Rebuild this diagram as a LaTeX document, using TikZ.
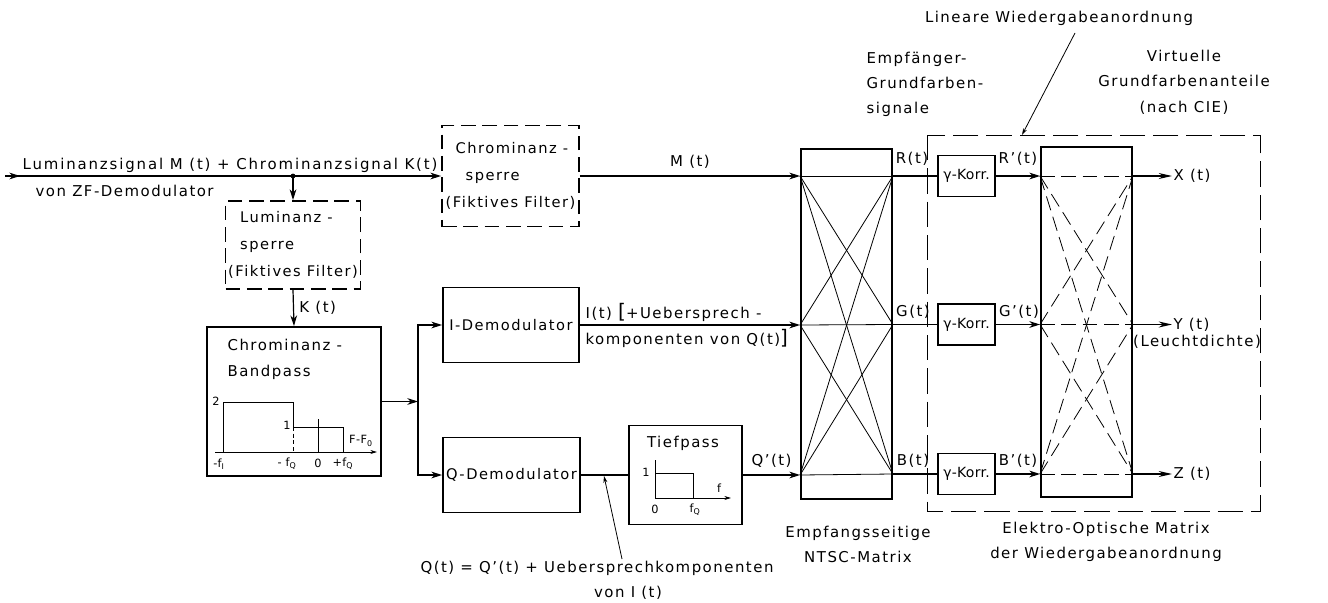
\documentclass[tikz,border=0pt]{standalone}
\usepackage{fontspec}
\setmainfont[LetterSpace=10]{DejaVu Sans}
\usepackage{tikz}
\usetikzlibrary{arrows.meta, positioning}

\tikzset{
  block/.style={draw, line width=1.4pt, inner sep=0pt},
  fblock/.style={block, dash pattern=on 11pt off 5pt},
  sig/.style={line width=0.9pt, -{Stealth[length=8pt, width=5pt, inset=2.5pt]}},
  wire/.style={line width=0.9pt},
  mline/.style={line width=0.6pt},
  dmline/.style={mline, dash pattern=on 11pt off 5pt},
  ptr/.style={line width=0.6pt, -{Stealth[length=5pt, width=3pt, inset=1.5pt]}},
  outsig/.style={line width=0.9pt, -{Stealth[length=10pt, width=4.5pt]}},
  txt/.style={inner sep=1pt, align=left, font=\fontsize{11.2}{19}\selectfont},
  ctxt/.style={txt, align=center},
  small/.style={inner sep=0.5pt, font=\fontsize{8.5}{10}\selectfont\addfontfeatures{LetterSpace=3}},
}

\begin{document}
\begin{tikzpicture}[x=0.75pt, y=-0.75pt]
  \useasboundingbox (0,0) rectangle (1328,603);

  % blocks
  \node[fblock, minimum width=101.25pt, minimum height=66pt, txt,
    font=\fontsize{11}{20.5}\selectfont] (lsp) at (293,245)
    {\hspace*{9pt}Luminanz -\\\hspace*{9pt}sperre\\(Fiktives Filter)};
  \node[block, minimum width=130.5pt, minimum height=111.75pt] (bp) at (294,401.5) {};
  \node[fblock, minimum width=102.75pt, minimum height=75.75pt, txt,
    font=\fontsize{11}{20.5}\selectfont] (chs) at (510.5,176)
    {\hspace*{7.5pt}Chrominanz -\\\hspace*{15pt}sperre\\(Fiktives Filter)};
  \node[block, minimum width=102pt, minimum height=56.25pt, txt,
    font=\fontsize{11}{13}\selectfont] (idem) at (511,325) {I-Demodulator};
  \node[block, minimum width=102.75pt, minimum height=56.25pt, txt,
    font=\fontsize{11}{13}\selectfont] (qdem) at (511.5,475) {Q-Demodulator};
  \node[block, minimum width=84.75pt, minimum height=74.25pt] (tp) at (685.5,475) {};
  \node[block, minimum width=68.25pt, minimum height=262.5pt] (ntsc) at (846.5,324) {};
  \node[block, minimum width=68.25pt, minimum height=262.5pt] (eom) at (1086.5,322) {};
  \foreach \n/\y in {R/176, G/324.5, B/474}
    \node[block, line width=1.1pt, minimum width=42.75pt, minimum height=30.75pt,
      font=\fontsize{10.5}{12}\selectfont\addfontfeatures{LetterSpace=2}] (g\n) at (966.5,\y) {γ-Korr.};

  % Lineare Wiedergabeanordnung
  \draw[line width=0.7pt, dash pattern=on 19pt off 6pt] (927,135) rectangle (1260,511);

  % inner texts
  \node[txt, anchor=west] (bptxt) at (226,359.5) {Chrominanz -\\Bandpass};
  \node[txt] (tptxt) at (683,443) {Tiefpass};

  % Bandpass characteristic
  \draw[mline, -{Stealth[length=5pt, width=3pt]}] (215,452) -- (377,452);
  \draw[mline] (223,452) |- (293,402) -- (293,427) -| (343,452);
  \draw[mline, dash pattern=on 3pt off 2pt] (293,427) -- (293,452);
  \draw[mline] (318,419) -- (318,452);
  \node[small] (b2) at (216,401) {2};
  \node[small] (b1) at (287,425) {1};
  \node[small] (bf) at (361,441) {F-F\textsubscript{0}};
  \node[small] (bfi) at (219,464) {-f\textsubscript{I}};
  \node[small] (bfq) at (287,464) {- f\textsubscript{Q}};
  \node[small] (b0) at (318,463) {0};
  \node[small] (bpq) at (343,464) {+f\textsubscript{Q}};

  % Tiefpass characteristic
  \draw[mline, -{Stealth[length=5pt, width=3pt]}] (655,498) -- (731,498);
  \draw[mline] (655,460) -- (655,498);
  \draw[mline] (655,473) -| (693,498);
  \node[small] (t1) at (646,472) {1};
  \node[small] (tf) at (719,488) {f};
  \node[small] (t0) at (655,509) {0};
  \node[small] (tfq) at (695,510) {f\textsubscript{Q}};

  % input
  \coordinate (in) at (5,176);
  \coordinate (j) at (293,176);
  \draw[sig] (in) -- ++(15,0);
  \draw[sig] (in) -- (chs.west);
  \fill (j) circle (1.8pt);
  \node[txt, anchor=west, font=\fontsize{11.2}{13}\selectfont\addfontfeatures{LetterSpace=12.5}] (intxt) at (21,165)
    {Luminanzsignal M (t) + Chrominanzsignal K(t)};
  \node[txt, anchor=west] (zftxt) at (34,191) {von ZF-Demodulator};
  \draw[sig] (j) -- (lsp.north);
  \draw[sig] (lsp.south) -- (bp.north) node[midway, right=3pt, txt] {K (t)};

  % I/Q branch
  \coordinate (bus) at (418,401.5);
  \draw[sig] (bp.east) -- (bus);
  \draw[sig] (bus) |- (idem.west);
  \draw[sig] (bus) |- (qdem.west);
  \draw[wire] (qdem.east) -- (tp.west);

  % into NTSC matrix
  \coordinate (nl1) at (ntsc.west |- chs.east);
  \coordinate (nl2) at (ntsc.west |- idem.east);
  \coordinate (nl3) at (ntsc.west |- tp.east);
  \coordinate (nr1) at (ntsc.east |- gR.west);
  \coordinate (nr2) at (ntsc.east |- gG.west);
  \coordinate (nr3) at (ntsc.east |- gB.west);
  \draw[sig] (chs.east) -- (nl1) node[midway, above=4pt, txt] {M (t)};
  \draw[sig] (idem.east) -- (nl2);
  \draw[sig] (tp.east) -- (nl3) node[midway, above=4pt, txt] {Q'(t)};
  \node[txt, anchor=west] (itxt) at (584,325.5) {I(t) {\fontsize{15}{15}\selectfont[}+Uebersprech -\\komponenten von Q(t){\fontsize{15}{15}\selectfont]}};
  \foreach \a in {1,2,3}
    \foreach \b in {1,2,3}
      \draw[mline] (nl\a) -- (nr\b);

  % gamma correction and electro-optical matrix
  \coordinate (el1) at (eom.west |- gR.east);
  \coordinate (el2) at (eom.west |- gG.east);
  \coordinate (el3) at (eom.west |- gB.east);
  \coordinate (er1) at (eom.east |- gR.east);
  \coordinate (er2) at (eom.east |- gG.east);
  \coordinate (er3) at (eom.east |- gB.east);
  \draw[wire] (nr1) -- (gR.west);
  \draw[wire] (nr2) -- (gG.west);
  \draw[wire] (nr3) -- (gB.west);
  \draw[sig] (gR.east) -- (el1);
  \draw[sig] (gG.east) -- (el2);
  \draw[sig] (gB.east) -- (el3);
  \foreach \a in {1,2,3}
    \foreach \b in {1,2,3}
      \draw[dmline] (el\a) -- (er\b);

  \node[txt] (rt) at (912,159) {R(t)};
  \node[txt] (gt) at (913,312) {G(t)};
  \node[txt] (bt) at (913,461) {B(t)};
  \node[txt] (rst) at (1018,159) {R'(t)};
  \node[txt] (gst) at (1019,312) {G'(t)};
  \node[txt] (bst) at (1018,461) {B'(t)};

  % outputs
  \node[txt, anchor=west] (xo) at (1172,176) {X (t)};
  \node[txt, anchor=west] (yo) at (1172,324.5) {Y (t)};
  \node[txt] (yl) at (1197,342) {(Leuchtdichte)};
  \node[txt, anchor=west] (zo) at (1172,474) {Z (t)};
  \draw[outsig] (er1) -- (xo.west);
  \draw[outsig] (er2) -- (yo.west);
  \draw[outsig] (er3) -- (zo.west);

  % annotations
  \node[ctxt] (lin) at (1059,18) {Lineare Wiedergabeanordnung};
  \coordinate (lp1) at (1075,33);
  \coordinate (lp2) at (1022,135);
  \draw[ptr] (lp1) -- (lp2);
  \node[txt, anchor=west] (emp) at (865,84.5) {Empfänger-\\Grundfarben-\\signale};
  \node[ctxt] (virt) at (1184,82) {Virtuelle\\Grundfarbenanteile\\(nach CIE)};
  \node[ctxt] (ntxt) at (858,544.5) {Empfangsseitige\\NTSC-Matrix};
  \node[ctxt] (etxt) at (1106,542) {Elektro-Optische Matrix\\der Wiedergabeanordnung};
  \node[txt] (qtxt) at (597,568) {Q(t) = Q'(t) + Uebersprechkomponenten};
  \node[txt] (qtxt2) at (628,593) {von I (t)};
  \coordinate (qp1) at (622,559);
  \coordinate (qp2) at (604,476);
  \draw[ptr] (qp1) -- (qp2);
\end{tikzpicture}
\end{document}
